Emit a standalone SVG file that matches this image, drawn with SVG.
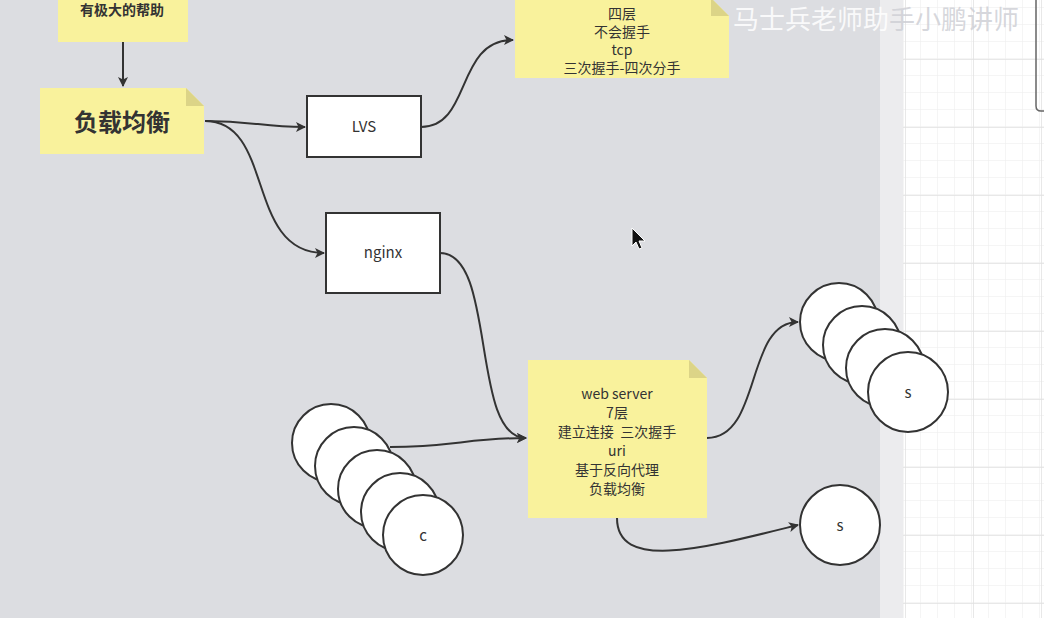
<svg xmlns="http://www.w3.org/2000/svg" width="1044" height="618" viewBox="0 0 1044 618">
<defs>
<style>
.note{fill:#f9f29c;}
.fold{fill:#dcd487;}
.box{fill:#ffffff;stroke:#333333;stroke-width:2;}
.circ{fill:#ffffff;stroke:#333333;stroke-width:2;}
.t{font-family:"Noto Sans CJK SC","Liberation Sans",sans-serif;fill:#333333;text-anchor:middle;}
.edge{fill:none;stroke:#333333;stroke-width:2;}
</style>
<marker id="arr" viewBox="0 0 10 10" refX="9" refY="5" markerWidth="5" markerHeight="5" markerUnits="strokeWidth" orient="auto">
<path d="M0,0 L10,5 L0,10 L2.5,5 Z" fill="#333333"/>
</marker>
<pattern id="minor" x="903" y="7" width="17" height="17" patternUnits="userSpaceOnUse">
<path d="M0,0 H17 M0,0 V17" fill="none" stroke="#ebebeb" stroke-width="1"/>
</pattern>
<pattern id="major" x="905" y="59" width="68" height="68" patternUnits="userSpaceOnUse">
<path d="M0,0 H68 M0,0 V68" fill="none" stroke="#e1e1e1" stroke-width="1.5"/>
</pattern>
</defs>
<rect x="0" y="0" width="1044" height="618" fill="#dcdde1"/>
<rect x="880" y="0" width="164" height="618" fill="#ececee"/>
<rect x="903" y="0" width="141" height="618" fill="#ffffff"/>
<rect x="903" y="0" width="141" height="618" fill="url(#minor)"/>
<rect x="903" y="0" width="141" height="618" fill="url(#major)"/>
<path d="M1036,0 V106 Q1036,111 1041,111 H1044" fill="none" stroke="#666666" stroke-width="1.5"/>

<g id="connectors">
<path class="edge" d="M123,42 V86" marker-end="url(#arr)"/>
<path class="edge" d="M205,121 C255,121 260,127 305,127" marker-end="url(#arr)"/>
<path class="edge" d="M205,121 C275,121 245,253 324,253" marker-end="url(#arr)"/>
<path class="edge" d="M421,127 C472,127 455,40 513,40" marker-end="url(#arr)"/>
<path class="edge" d="M440,253 C497,253 470,438 526,438" marker-end="url(#arr)"/>
<path class="edge" d="M390,447 C450,447 470,438 526,438" marker-end="url(#arr)"/>
<path class="edge" d="M707,438 C762,438 745,322 798,322" marker-end="url(#arr)"/>
<path class="edge" d="M617,518 C617,572 705,548 798,525" marker-end="url(#arr)"/>
</g>

<g id="note-help">
<rect class="note" x="58" y="-2" width="130" height="44"/>
<text class="t" x="122" y="15" font-size="14" font-weight="bold">有极大的帮助</text>
</g>

<g id="note-lb">
<path class="note" d="M40,88 H186 L204,106 V154 H40 Z"/>
<path class="fold" d="M186,88 L204,106 H186 Z"/>
<text class="t" x="122" y="131" font-size="24" font-weight="bold">负载均衡</text>
</g>

<g id="lvs">
<rect class="box" x="307" y="96" width="114" height="61"/>
<text class="t" x="364" y="132" font-size="15">LVS</text>
</g>

<g id="nginx">
<rect class="box" x="326" y="213" width="114" height="80"/>
<text class="t" x="383" y="258" font-size="15">nginx</text>
</g>

<g id="note-l4">
<path class="note" d="M515,-2 H711 L729,16 V78 H515 Z"/>
<path class="fold" d="M711,-2 L729,16 H711 Z"/>
<text class="t" x="622" y="19" font-size="14">四层</text>
<text class="t" x="622" y="37" font-size="14">不会握手</text>
<text class="t" x="622" y="55" font-size="14">tcp</text>
<text class="t" x="622" y="73" font-size="14">三次握手-四次分手</text>
</g>

<g id="note-web">
<path class="note" d="M528,360 H689 L707,378 V518 H528 Z"/>
<path class="fold" d="M689,360 L707,378 H689 Z"/>
<text class="t" x="617" y="399" font-size="14">web server</text>
<text class="t" x="617" y="418" font-size="14">7层</text>
<text class="t" x="617" y="437" font-size="14" xml:space="preserve">建立连接  三次握手</text>
<text class="t" x="617" y="456" font-size="14">uri</text>
<text class="t" x="617" y="475" font-size="14">基于反向代理</text>
<text class="t" x="617" y="494" font-size="14">负载均衡</text>
</g>

<g id="clients">
<circle class="circ" cx="331" cy="443" r="39"/>
<circle class="circ" cx="354" cy="466" r="39"/>
<circle class="circ" cx="377" cy="489" r="39"/>
<circle class="circ" cx="400" cy="512" r="39"/>
<circle class="circ" cx="423" cy="535" r="40"/>
<text class="t" x="423" y="541" font-size="15">c</text>
</g>

<g id="servers">
<circle class="circ" cx="839" cy="322" r="39"/>
<circle class="circ" cx="862" cy="345" r="39"/>
<circle class="circ" cx="885" cy="368" r="39"/>
<circle class="circ" cx="908" cy="392" r="40"/>
<text class="t" x="908" y="398" font-size="15">s</text>
</g>

<g id="server-single">
<circle class="circ" cx="840" cy="525" r="40"/>
<text class="t" x="840" y="531" font-size="15">s</text>
</g>

<path d="M632,228 L632,246 L636,242 L639,249 L642,248 L639,241 L645,241 Z" fill="#111111" stroke="#ffffff" stroke-width="1"/>
<text x="733" y="29" font-family="Noto Sans CJK SC, sans-serif" font-size="26" fill="#ffffff" fill-opacity="0.85">马士兵老师助<tspan fill="#cfd0d6">手小鹏讲师</tspan></text>
</svg>
